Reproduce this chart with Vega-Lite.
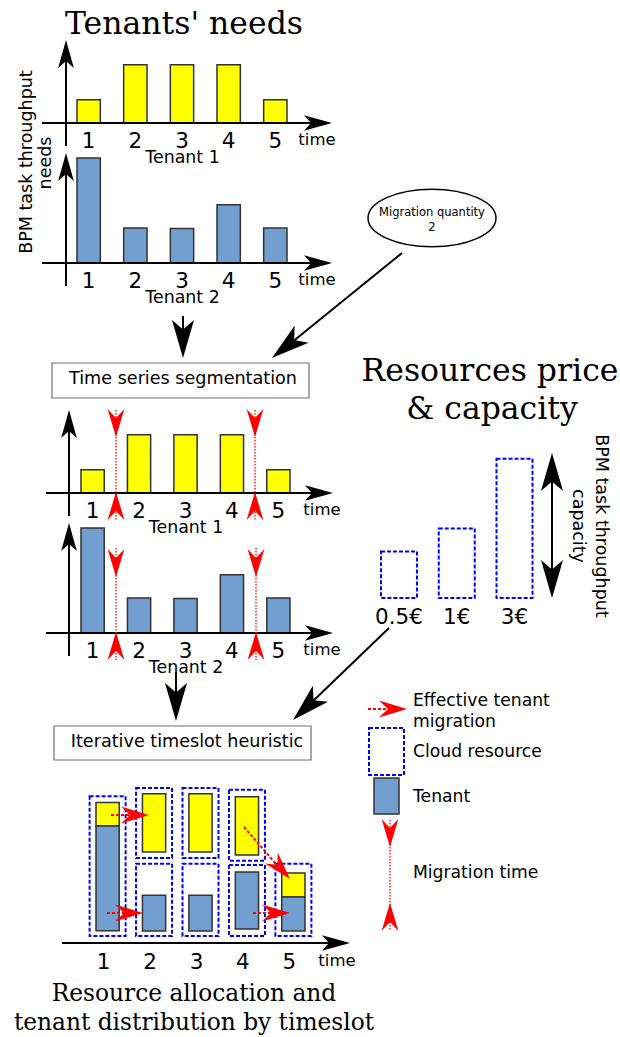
{
  "$schema": "https://vega.github.io/schema/vega-lite/v6.json",
  "width": 620,
  "height": 1037,
  "autosize": {"type": "none"},
  "padding": 0,
  "background": "#ffffff",
  "config": {
    "view": {"stroke": null},
    "axis": {"domain": false, "ticks": false, "grid": false, "labelColor": "#000000", "labelFont": "DejaVu Sans", "labelAngle": 0, "titleColor": "#000000", "titleFont": "DejaVu Sans", "titleFontWeight": "normal"}
  },
  "datasets": {
    "needs": [
      {"tenant": "Tenant 1", "time": 1, "value": 2},
      {"tenant": "Tenant 1", "time": 2, "value": 5},
      {"tenant": "Tenant 1", "time": 3, "value": 5},
      {"tenant": "Tenant 1", "time": 4, "value": 5},
      {"tenant": "Tenant 1", "time": 5, "value": 2},
      {"tenant": "Tenant 2", "time": 1, "value": 9},
      {"tenant": "Tenant 2", "time": 2, "value": 3},
      {"tenant": "Tenant 2", "time": 3, "value": 2.95},
      {"tenant": "Tenant 2", "time": 4, "value": 5},
      {"tenant": "Tenant 2", "time": 5, "value": 3}
    ],
    "servers": [
      {"time": 1, "lo": 0, "hi": 12},
      {"time": 2, "lo": 0, "hi": 6.2},
      {"time": 2, "lo": 6.7, "hi": 12.7},
      {"time": 3, "lo": 0, "hi": 6.2},
      {"time": 3, "lo": 6.7, "hi": 12.7},
      {"time": 4, "lo": 0, "hi": 6.1},
      {"time": 4, "lo": 6.45, "hi": 12.55},
      {"time": 5, "lo": 0, "hi": 6.2}
    ],
    "alloc": [
      {"time": 1, "tenant": "Tenant 2", "lo": 0.45, "hi": 9.45},
      {"time": 1, "tenant": "Tenant 1", "lo": 9.45, "hi": 11.45},
      {"time": 2, "tenant": "Tenant 1", "lo": 7.2, "hi": 12.2},
      {"time": 2, "tenant": "Tenant 2", "lo": 0.43, "hi": 3.5},
      {"time": 3, "tenant": "Tenant 1", "lo": 7.2, "hi": 12.2},
      {"time": 3, "tenant": "Tenant 2", "lo": 0.43, "hi": 3.5},
      {"time": 4, "tenant": "Tenant 1", "lo": 6.95, "hi": 11.95},
      {"time": 4, "tenant": "Tenant 2", "lo": 0.6, "hi": 5.5},
      {"time": 5, "tenant": "Tenant 2", "lo": 0.43, "hi": 3.35},
      {"time": 5, "tenant": "Tenant 1", "lo": 3.35, "hi": 5.4}
    ],
    "prices": [
      {"price": "0.5€", "capacity": 4},
      {"price": "1€", "capacity": 6},
      {"price": "3€", "capacity": 12}
    ],
    "rects": [
      {"kind": "box", "x": 52, "y": 363, "x2": 309, "y2": 398},
      {"kind": "box", "x": 54, "y": 726, "x2": 311, "y2": 760},
      {"kind": "cloud", "x": 369, "y": 728, "x2": 404, "y2": 775},
      {"kind": "tenant", "x": 374, "y": 778, "x2": 399, "y2": 814}
    ],
    "lines": [
      {"kind": "black", "x": 66, "y": 146, "x2": 66, "y2": 52},
      {"kind": "black", "x": 42, "y": 123, "x2": 320, "y2": 123},
      {"kind": "black", "x": 66, "y": 286, "x2": 66, "y2": 165},
      {"kind": "black", "x": 42, "y": 263, "x2": 320, "y2": 263},
      {"kind": "black", "x": 69, "y": 516, "x2": 69, "y2": 422},
      {"kind": "black", "x": 46, "y": 493, "x2": 321, "y2": 493},
      {"kind": "black", "x": 69, "y": 656, "x2": 69, "y2": 535},
      {"kind": "black", "x": 46, "y": 633, "x2": 321, "y2": 633},
      {"kind": "black", "x": 62, "y": 943, "x2": 338, "y2": 943},
      {"kind": "black", "x": 552, "y": 470, "x2": 552, "y2": 582},
      {"kind": "black", "x": 183, "y": 316, "x2": 183, "y2": 340},
      {"kind": "black", "x": 402, "y": 253, "x2": 291, "y2": 343},
      {"kind": "black", "x": 176, "y": 672, "x2": 176, "y2": 703},
      {"kind": "black", "x": 389, "y": 628, "x2": 311, "y2": 703},
      {"kind": "dotted", "x": 116, "y": 410, "x2": 116, "y2": 520},
      {"kind": "dotted", "x": 255, "y": 410, "x2": 255, "y2": 520},
      {"kind": "dotted", "x": 116, "y": 548, "x2": 116, "y2": 660},
      {"kind": "dotted", "x": 256, "y": 548, "x2": 256, "y2": 660},
      {"kind": "dotted", "x": 390, "y": 820, "x2": 390, "y2": 930},
      {"kind": "dashed", "x": 111, "y": 815, "x2": 130, "y2": 815},
      {"kind": "dashed", "x": 107, "y": 913, "x2": 124, "y2": 913},
      {"kind": "dashed", "x": 244, "y": 827, "x2": 276, "y2": 864},
      {"kind": "dashed", "x": 253, "y": 913, "x2": 271, "y2": 913},
      {"kind": "dashed", "x": 368, "y": 709, "x2": 387, "y2": 709}
    ],
    "heads": [
      {"kind": "axis", "x": 66, "y": 40, "angle": 270},
      {"kind": "axis", "x": 332, "y": 123, "angle": 0},
      {"kind": "axis", "x": 66, "y": 153, "angle": 270},
      {"kind": "axis", "x": 332, "y": 263, "angle": 0},
      {"kind": "axis", "x": 69, "y": 410, "angle": 270},
      {"kind": "axis", "x": 333, "y": 493, "angle": 0},
      {"kind": "axis", "x": 69, "y": 523, "angle": 270},
      {"kind": "axis", "x": 333, "y": 633, "angle": 0},
      {"kind": "axis", "x": 350, "y": 943, "angle": 0},
      {"kind": "big", "x": 183, "y": 358, "angle": 90},
      {"kind": "big", "x": 272, "y": 358, "angle": 141.1},
      {"kind": "big", "x": 176, "y": 721, "angle": 90},
      {"kind": "big", "x": 293, "y": 720, "angle": 136.2},
      {"kind": "big", "x": 552, "y": 453, "angle": 270},
      {"kind": "big", "x": 552, "y": 598, "angle": 90},
      {"kind": "red", "x": 116, "y": 437, "angle": 90},
      {"kind": "red", "x": 116, "y": 492, "angle": 270},
      {"kind": "red", "x": 255, "y": 437, "angle": 90},
      {"kind": "red", "x": 255, "y": 492, "angle": 270},
      {"kind": "red", "x": 116, "y": 577, "angle": 90},
      {"kind": "red", "x": 116, "y": 632, "angle": 270},
      {"kind": "red", "x": 256, "y": 577, "angle": 90},
      {"kind": "red", "x": 256, "y": 632, "angle": 270},
      {"kind": "red", "x": 390, "y": 847, "angle": 90},
      {"kind": "red", "x": 390, "y": 903, "angle": 270},
      {"kind": "red", "x": 149, "y": 815, "angle": 0},
      {"kind": "red", "x": 143, "y": 913, "angle": 0},
      {"kind": "red", "x": 290, "y": 879, "angle": 48.5},
      {"kind": "red", "x": 290, "y": 913, "angle": 0},
      {"kind": "red", "x": 407, "y": 709, "angle": 0}
    ],
    "bubble": [{"x": 432, "y": 218}],
    "labels": [
      {"group": "title", "x": 184, "y": 25, "text": "Tenants' needs"},
      {"group": "title", "x": 490, "y": 372, "text": "Resources price"},
      {"group": "title", "x": 492, "y": 410, "text": "& capacity"},
      {"group": "caption", "x": 194, "y": 994, "text": "Resource allocation and"},
      {"group": "caption", "x": 194, "y": 1023, "text": "tenant distribution by timeslot"},
      {"group": "box", "x": 183, "y": 379, "text": "Time series segmentation"},
      {"group": "box", "x": 187, "y": 742, "text": "Iterative timeslot heuristic"},
      {"group": "time", "x": 317, "y": 140, "text": "time"},
      {"group": "time", "x": 317, "y": 280, "text": "time"},
      {"group": "time", "x": 322, "y": 510, "text": "time"},
      {"group": "time", "x": 322, "y": 650, "text": "time"},
      {"group": "time", "x": 337, "y": 961, "text": "time"},
      {"group": "legend", "x": 413, "y": 701, "text": "Effective tenant"},
      {"group": "legend", "x": 413, "y": 722, "text": "migration"},
      {"group": "legend", "x": 413, "y": 752, "text": "Cloud resource"},
      {"group": "legend", "x": 413, "y": 797, "text": "Tenant"},
      {"group": "legend", "x": 413, "y": 873, "text": "Migration time"},
      {"group": "bubble", "x": 432, "y": 213, "text": "Migration quantity"},
      {"group": "bubble", "x": 432, "y": 228, "text": "2"},
      {"group": "rotL", "x": 27, "y": 162, "text": "BPM task throughput"},
      {"group": "rotL", "x": 46, "y": 163, "text": "needs"},
      {"group": "rotR", "x": 601, "y": 526, "text": "BPM task throughput"},
      {"group": "rotR", "x": 578, "y": 526, "text": "capacity"}
    ]
  },
  "layer": [
    {
      "data": {"name": "needs"},
      "transform": [{"filter": "datum.tenant === 'Tenant 1'"}],
      "mark": {"type": "bar", "fill": "#ffff00", "stroke": "#333333", "strokeWidth": 1.5, "opacity": 1},
      "encoding": {
        "x": {"field": "time", "type": "ordinal", "scale": {"type": "band", "domain": [1, 2, 3, 4, 5], "range": [77, 287], "paddingInner": 0.5, "paddingOuter": 0},
          "axis": {"orient": "bottom", "offset": -914, "labelFontSize": 21.5, "labelPadding": 7, "title": "Tenant 1", "titleFontSize": 17.4, "titleY": 34.5, "titleBaseline": "middle"}},
        "y": {"field": "value", "type": "quantitative", "scale": {"domain": [0, 10], "range": [123, 6.3], "nice": false}, "axis": null}
      }
    },
    {
      "data": {"name": "needs"},
      "transform": [{"filter": "datum.tenant === 'Tenant 2'"}],
      "mark": {"type": "bar", "fill": "#729fcf", "stroke": "#333333", "strokeWidth": 1.5, "opacity": 1},
      "encoding": {
        "x": {"field": "time", "type": "ordinal", "scale": {"type": "band", "domain": [1, 2, 3, 4, 5], "range": [77, 287], "paddingInner": 0.5, "paddingOuter": 0},
          "axis": {"orient": "bottom", "offset": -774, "labelFontSize": 21.5, "labelPadding": 7, "title": "Tenant 2", "titleFontSize": 17.4, "titleY": 34.5, "titleBaseline": "middle"}},
        "y": {"field": "value", "type": "quantitative", "scale": {"domain": [0, 10], "range": [263, 146.3], "nice": false}, "axis": null}
      }
    },
    {
      "data": {"name": "needs"},
      "transform": [{"filter": "datum.tenant === 'Tenant 1'"}],
      "mark": {"type": "bar", "fill": "#ffff00", "stroke": "#333333", "strokeWidth": 1.5, "opacity": 1},
      "encoding": {
        "x": {"field": "time", "type": "ordinal", "scale": {"type": "band", "domain": [1, 2, 3, 4, 5], "range": [81, 290], "paddingInner": 0.5, "paddingOuter": 0},
          "axis": {"orient": "bottom", "offset": -544, "labelFontSize": 21.5, "labelPadding": 7, "title": "Tenant 1", "titleFontSize": 17.4, "titleY": 34.5, "titleBaseline": "middle"}},
        "y": {"field": "value", "type": "quantitative", "scale": {"domain": [0, 10], "range": [493, 376.3], "nice": false}, "axis": null}
      }
    },
    {
      "data": {"name": "needs"},
      "transform": [{"filter": "datum.tenant === 'Tenant 2'"}],
      "mark": {"type": "bar", "fill": "#729fcf", "stroke": "#333333", "strokeWidth": 1.5, "opacity": 1},
      "encoding": {
        "x": {"field": "time", "type": "ordinal", "scale": {"type": "band", "domain": [1, 2, 3, 4, 5], "range": [81, 290], "paddingInner": 0.5, "paddingOuter": 0},
          "axis": {"orient": "bottom", "offset": -404, "labelFontSize": 21.5, "labelPadding": 7, "title": "Tenant 2", "titleFontSize": 17.4, "titleY": 34.5, "titleBaseline": "middle"}},
        "y": {"field": "value", "type": "quantitative", "scale": {"domain": [0, 10], "range": [633, 516.3], "nice": false}, "axis": null}
      }
    },
    {
      "layer": [
        {
          "data": {"name": "servers"},
          "mark": {"type": "bar", "width": 36, "fillOpacity": 0, "stroke": "#0000ff", "strokeWidth": 2, "strokeDash": [4, 2], "opacity": 1},
          "encoding": {
            "x": {"field": "time", "type": "ordinal", "scale": {"type": "band", "domain": [1, 2, 3, 4, 5], "range": [96, 305], "paddingInner": 0.5, "paddingOuter": 0},
              "axis": {"orient": "bottom", "offset": -94, "labelFontSize": 21.5, "labelPadding": 8, "labelOffset": -4, "title": null}},
            "y": {"field": "hi", "type": "quantitative", "scale": {"domain": [0, 12], "range": [936, 796.2], "nice": false}, "axis": null},
            "y2": {"field": "lo"}
          }
        },
        {
          "data": {"name": "alloc"},
          "transform": [{"filter": "datum.tenant === 'Tenant 1'"}],
          "mark": {"type": "bar", "fill": "#ffff00", "stroke": "#333333", "strokeWidth": 1.5, "opacity": 1},
          "encoding": {
            "x": {"field": "time", "type": "ordinal", "scale": {"type": "band", "domain": [1, 2, 3, 4, 5], "range": [96, 305], "paddingInner": 0.5, "paddingOuter": 0},
              "axis": {"orient": "bottom", "offset": -94, "labelFontSize": 21.5, "labelPadding": 8, "labelOffset": -4, "title": null}},
            "y": {"field": "hi", "type": "quantitative", "scale": {"domain": [0, 12], "range": [936, 796.2], "nice": false}, "axis": null},
            "y2": {"field": "lo"}
          }
        },
        {
          "data": {"name": "alloc"},
          "transform": [{"filter": "datum.tenant === 'Tenant 2'"}],
          "mark": {"type": "bar", "fill": "#729fcf", "stroke": "#333333", "strokeWidth": 1.5, "opacity": 1},
          "encoding": {
            "x": {"field": "time", "type": "ordinal", "scale": {"type": "band", "domain": [1, 2, 3, 4, 5], "range": [96, 305], "paddingInner": 0.5, "paddingOuter": 0},
              "axis": {"orient": "bottom", "offset": -94, "labelFontSize": 21.5, "labelPadding": 8, "labelOffset": -4, "title": null}},
            "y": {"field": "hi", "type": "quantitative", "scale": {"domain": [0, 12], "range": [936, 796.2], "nice": false}, "axis": null},
            "y2": {"field": "lo"}
          }
        }
      ]
    },
    {
      "data": {"name": "prices"},
      "mark": {"type": "bar", "fillOpacity": 0, "stroke": "#0000ff", "strokeWidth": 2, "strokeDash": [4, 2], "opacity": 1},
      "encoding": {
        "x": {"field": "price", "type": "nominal", "sort": null, "scale": {"type": "band", "domain": ["0.5€", "1€", "3€"], "range": [381, 532.5], "paddingInner": 0.377, "paddingOuter": 0},
          "axis": {"orient": "bottom", "offset": -439, "labelFontSize": 21.5, "labelPadding": 8, "title": null}},
        "y": {"field": "capacity", "type": "quantitative", "scale": {"domain": [0, 12], "range": [598, 458.8], "nice": false}, "axis": null}
      }
    },
    {
      "layer": [
        {
          "data": {"name": "rects"},
          "transform": [{"filter": "datum.kind === 'box'"}],
          "mark": {"type": "rect", "fill": "#ffffff", "stroke": "#707070", "strokeWidth": 1.2},
          "encoding": {
            "x": {"field": "x", "type": "quantitative", "scale": {"domain": [0, 620], "range": [0, 620], "nice": false, "zero": false}, "axis": null},
            "x2": {"field": "x2"},
            "y": {"field": "y", "type": "quantitative", "scale": {"domain": [0, 1037], "range": [0, 1037], "nice": false, "zero": false}, "axis": null},
            "y2": {"field": "y2"}
          }
        },
        {
          "data": {"name": "rects"},
          "transform": [{"filter": "datum.kind === 'cloud'"}],
          "mark": {"type": "rect", "fillOpacity": 0, "stroke": "#0000ff", "strokeWidth": 2, "strokeDash": [4, 2]},
          "encoding": {
            "x": {"field": "x", "type": "quantitative", "scale": {"domain": [0, 620], "range": [0, 620], "nice": false, "zero": false}, "axis": null},
            "x2": {"field": "x2"},
            "y": {"field": "y", "type": "quantitative", "scale": {"domain": [0, 1037], "range": [0, 1037], "nice": false, "zero": false}, "axis": null},
            "y2": {"field": "y2"}
          }
        },
        {
          "data": {"name": "rects"},
          "transform": [{"filter": "datum.kind === 'tenant'"}],
          "mark": {"type": "rect", "fill": "#729fcf", "stroke": "#333333", "strokeWidth": 1.5},
          "encoding": {
            "x": {"field": "x", "type": "quantitative", "scale": {"domain": [0, 620], "range": [0, 620], "nice": false, "zero": false}, "axis": null},
            "x2": {"field": "x2"},
            "y": {"field": "y", "type": "quantitative", "scale": {"domain": [0, 1037], "range": [0, 1037], "nice": false, "zero": false}, "axis": null},
            "y2": {"field": "y2"}
          }
        },
        {
          "data": {"name": "lines"},
          "transform": [{"filter": "datum.kind === 'black'"}],
          "mark": {"type": "rule", "stroke": "#000000", "strokeWidth": 2},
          "encoding": {
            "x": {"field": "x", "type": "quantitative", "scale": {"domain": [0, 620], "range": [0, 620], "nice": false, "zero": false}, "axis": null},
            "x2": {"field": "x2"},
            "y": {"field": "y", "type": "quantitative", "scale": {"domain": [0, 1037], "range": [0, 1037], "nice": false, "zero": false}, "axis": null},
            "y2": {"field": "y2"}
          }
        },
        {
          "data": {"name": "lines"},
          "transform": [{"filter": "datum.kind === 'dotted'"}],
          "mark": {"type": "rule", "stroke": "#ff0000", "strokeWidth": 1.3, "strokeDash": [1.5, 1.5]},
          "encoding": {
            "x": {"field": "x", "type": "quantitative", "scale": {"domain": [0, 620], "range": [0, 620], "nice": false, "zero": false}, "axis": null},
            "x2": {"field": "x2"},
            "y": {"field": "y", "type": "quantitative", "scale": {"domain": [0, 1037], "range": [0, 1037], "nice": false, "zero": false}, "axis": null},
            "y2": {"field": "y2"}
          }
        },
        {
          "data": {"name": "lines"},
          "transform": [{"filter": "datum.kind === 'dashed'"}],
          "mark": {"type": "rule", "stroke": "#ff0000", "strokeWidth": 2, "strokeDash": [3, 2]},
          "encoding": {
            "x": {"field": "x", "type": "quantitative", "scale": {"domain": [0, 620], "range": [0, 620], "nice": false, "zero": false}, "axis": null},
            "x2": {"field": "x2"},
            "y": {"field": "y", "type": "quantitative", "scale": {"domain": [0, 1037], "range": [0, 1037], "nice": false, "zero": false}, "axis": null},
            "y2": {"field": "y2"}
          }
        },
        {
          "data": {"name": "heads"},
          "transform": [{"filter": "datum.kind === 'axis'"}],
          "mark": {"type": "point", "shape": "M0,0 L-1,-0.28 L-0.75,0 L-1,0.28 Z", "size": 3136, "filled": true, "fill": "#000000", "strokeWidth": 0, "opacity": 1},
          "encoding": {
            "x": {"field": "x", "type": "quantitative", "scale": {"domain": [0, 620], "range": [0, 620], "nice": false, "zero": false}, "axis": null},
            "y": {"field": "y", "type": "quantitative", "scale": {"domain": [0, 1037], "range": [0, 1037], "nice": false, "zero": false}, "axis": null},
            "angle": {"field": "angle", "type": "quantitative", "scale": null}
          }
        },
        {
          "data": {"name": "heads"},
          "transform": [{"filter": "datum.kind === 'big'"}],
          "mark": {"type": "point", "shape": "M0,0 L-1,-0.29 L-0.75,0 L-1,0.29 Z", "size": 5776, "filled": true, "fill": "#000000", "strokeWidth": 0, "opacity": 1},
          "encoding": {
            "x": {"field": "x", "type": "quantitative", "scale": {"domain": [0, 620], "range": [0, 620], "nice": false, "zero": false}, "axis": null},
            "y": {"field": "y", "type": "quantitative", "scale": {"domain": [0, 1037], "range": [0, 1037], "nice": false, "zero": false}, "axis": null},
            "angle": {"field": "angle", "type": "quantitative", "scale": null}
          }
        },
        {
          "data": {"name": "heads"},
          "transform": [{"filter": "datum.kind === 'red'"}],
          "mark": {"type": "point", "shape": "M0,0 L-1,-0.3 L-0.68,0 L-1,0.3 Z", "size": 3136, "filled": true, "fill": "#ff0000", "strokeWidth": 0, "opacity": 1},
          "encoding": {
            "x": {"field": "x", "type": "quantitative", "scale": {"domain": [0, 620], "range": [0, 620], "nice": false, "zero": false}, "axis": null},
            "y": {"field": "y", "type": "quantitative", "scale": {"domain": [0, 1037], "range": [0, 1037], "nice": false, "zero": false}, "axis": null},
            "angle": {"field": "angle", "type": "quantitative", "scale": null}
          }
        },
        {
          "data": {"name": "bubble"},
          "mark": {"type": "point", "shape": "M-1,0 A1,0.45 0 1,1 1,0 A1,0.45 0 1,1 -1,0 Z", "size": 16384, "filled": false, "fill": "#ffffff", "stroke": "#000000", "strokeWidth": 1.5, "opacity": 1},
          "encoding": {
            "x": {"field": "x", "type": "quantitative", "scale": {"domain": [0, 620], "range": [0, 620], "nice": false, "zero": false}, "axis": null},
            "y": {"field": "y", "type": "quantitative", "scale": {"domain": [0, 1037], "range": [0, 1037], "nice": false, "zero": false}, "axis": null}
          }
        },
        {
          "data": {"name": "labels"},
          "transform": [{"filter": "datum.group === 'title'"}],
          "mark": {"type": "text", "font": "DejaVu Serif", "fontSize": 31.5, "align": "center", "baseline": "middle", "fill": "#000000"},
          "encoding": {
            "x": {"field": "x", "type": "quantitative", "scale": {"domain": [0, 620], "range": [0, 620], "nice": false, "zero": false}, "axis": null},
            "y": {"field": "y", "type": "quantitative", "scale": {"domain": [0, 1037], "range": [0, 1037], "nice": false, "zero": false}, "axis": null},
            "text": {"field": "text"}
          }
        },
        {
          "data": {"name": "labels"},
          "transform": [{"filter": "datum.group === 'caption'"}],
          "mark": {"type": "text", "font": "DejaVu Serif", "fontSize": 23.3, "align": "center", "baseline": "middle", "fill": "#000000"},
          "encoding": {
            "x": {"field": "x", "type": "quantitative", "scale": {"domain": [0, 620], "range": [0, 620], "nice": false, "zero": false}, "axis": null},
            "y": {"field": "y", "type": "quantitative", "scale": {"domain": [0, 1037], "range": [0, 1037], "nice": false, "zero": false}, "axis": null},
            "text": {"field": "text"}
          }
        },
        {
          "data": {"name": "labels"},
          "transform": [{"filter": "datum.group === 'box'"}],
          "mark": {"type": "text", "font": "DejaVu Sans", "fontSize": 17.6, "align": "center", "baseline": "middle", "fill": "#000000"},
          "encoding": {
            "x": {"field": "x", "type": "quantitative", "scale": {"domain": [0, 620], "range": [0, 620], "nice": false, "zero": false}, "axis": null},
            "y": {"field": "y", "type": "quantitative", "scale": {"domain": [0, 1037], "range": [0, 1037], "nice": false, "zero": false}, "axis": null},
            "text": {"field": "text"}
          }
        },
        {
          "data": {"name": "labels"},
          "transform": [{"filter": "datum.group === 'time'"}],
          "mark": {"type": "text", "font": "DejaVu Sans", "fontSize": 16.5, "align": "center", "baseline": "middle", "fill": "#000000"},
          "encoding": {
            "x": {"field": "x", "type": "quantitative", "scale": {"domain": [0, 620], "range": [0, 620], "nice": false, "zero": false}, "axis": null},
            "y": {"field": "y", "type": "quantitative", "scale": {"domain": [0, 1037], "range": [0, 1037], "nice": false, "zero": false}, "axis": null},
            "text": {"field": "text"}
          }
        },
        {
          "data": {"name": "labels"},
          "transform": [{"filter": "datum.group === 'legend'"}],
          "mark": {"type": "text", "font": "DejaVu Sans", "fontSize": 17.2, "align": "left", "baseline": "middle", "fill": "#000000"},
          "encoding": {
            "x": {"field": "x", "type": "quantitative", "scale": {"domain": [0, 620], "range": [0, 620], "nice": false, "zero": false}, "axis": null},
            "y": {"field": "y", "type": "quantitative", "scale": {"domain": [0, 1037], "range": [0, 1037], "nice": false, "zero": false}, "axis": null},
            "text": {"field": "text"}
          }
        },
        {
          "data": {"name": "labels"},
          "transform": [{"filter": "datum.group === 'bubble'"}],
          "mark": {"type": "text", "font": "DejaVu Sans", "fontSize": 11.5, "align": "center", "baseline": "middle", "fill": "#000000"},
          "encoding": {
            "x": {"field": "x", "type": "quantitative", "scale": {"domain": [0, 620], "range": [0, 620], "nice": false, "zero": false}, "axis": null},
            "y": {"field": "y", "type": "quantitative", "scale": {"domain": [0, 1037], "range": [0, 1037], "nice": false, "zero": false}, "axis": null},
            "text": {"field": "text"}
          }
        },
        {
          "data": {"name": "labels"},
          "transform": [{"filter": "datum.group === 'rotL'"}],
          "mark": {"type": "text", "font": "DejaVu Sans", "fontSize": 17.5, "align": "center", "baseline": "middle", "angle": 270, "fill": "#000000"},
          "encoding": {
            "x": {"field": "x", "type": "quantitative", "scale": {"domain": [0, 620], "range": [0, 620], "nice": false, "zero": false}, "axis": null},
            "y": {"field": "y", "type": "quantitative", "scale": {"domain": [0, 1037], "range": [0, 1037], "nice": false, "zero": false}, "axis": null},
            "text": {"field": "text"}
          }
        },
        {
          "data": {"name": "labels"},
          "transform": [{"filter": "datum.group === 'rotR'"}],
          "mark": {"type": "text", "font": "DejaVu Sans", "fontSize": 17.5, "align": "center", "baseline": "middle", "angle": 90, "fill": "#000000"},
          "encoding": {
            "x": {"field": "x", "type": "quantitative", "scale": {"domain": [0, 620], "range": [0, 620], "nice": false, "zero": false}, "axis": null},
            "y": {"field": "y", "type": "quantitative", "scale": {"domain": [0, 1037], "range": [0, 1037], "nice": false, "zero": false}, "axis": null},
            "text": {"field": "text"}
          }
        }
      ]
    }
  ],
  "resolve": {"scale": {"x": "independent", "y": "independent"}, "axis": {"x": "independent", "y": "independent"}}
}
